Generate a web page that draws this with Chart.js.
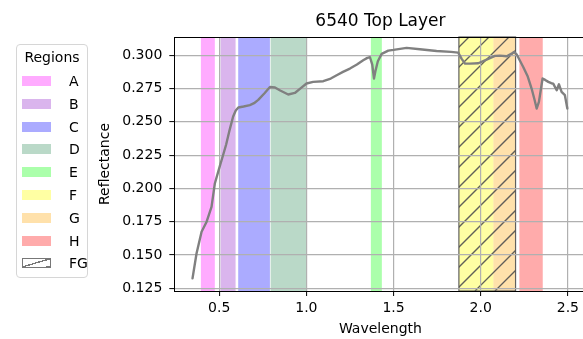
<!DOCTYPE html>
<html>
<head>
<meta charset="utf-8">
<script src="https://cdn.jsdelivr.net/npm/chart.js@4.4.0/dist/chart.umd.min.js"></script>
<style>
  html, body { margin: 0; padding: 0; background: #fff; overflow: hidden; width: 583px; height: 339px; }
  #wrap { position: absolute; left: 0; top: 0; width: 600px; height: 339px; }
  #legend { position: absolute; left: 16px; top: 44px; width: 72px; height: 234px; border: 1px solid #d6d6d6; border-radius: 4px; background: rgba(255,255,255,0.8); font-family: 'DejaVu Sans', sans-serif; font-size: 14px; color: #000; box-sizing: border-box; }
  #legend .title { position: absolute; left: 0; width: 100%; top: 3px; text-align: center; line-height: 18px; }
  #legend .row { position: absolute; left: 5px; height: 18px; line-height: 18px; }
  #legend .sw { position: absolute; left: 0; top: 4px; width: 29px; height: 10px; box-sizing: border-box; }
  #legend .lab { position: absolute; left: 47px; top: 0; white-space: nowrap; }
</style>
</head>
<body>
<div id="wrap"><canvas id="c" width="600" height="339"></canvas></div>
<div id="legend"><div class="title">Regions</div></div>
<script>
// ---------- data ----------
const wavelength = [0.347,0.370,0.399,0.428,0.456,0.475,0.504,0.520,0.540,0.560,0.580,0.595,0.610,0.640,0.676,0.700,0.724,0.760,0.791,0.820,0.850,0.896,0.934,0.970,1.001,1.039,1.097,1.140,1.174,1.210,1.250,1.290,1.326,1.350,1.365,1.378,1.388,1.396,1.410,1.432,1.470,1.500,1.575,1.651,1.747,1.830,1.871,1.890,1.910,1.939,1.986,2.034,2.082,2.110,2.149,2.175,2.191,2.206,2.244,2.270,2.292,2.310,2.321,2.334,2.355,2.370,2.388,2.405,2.416,2.436,2.449,2.464,2.483,2.497];
const reflectance = [0.1325,0.1512,0.1675,0.1750,0.1862,0.2037,0.2170,0.2240,0.2330,0.2440,0.2540,0.2585,0.2608,0.2615,0.2625,0.2640,0.2665,0.2715,0.2762,0.2758,0.2735,0.2705,0.2717,0.2755,0.2788,0.2800,0.2805,0.2825,0.2850,0.2875,0.2900,0.2930,0.2962,0.2980,0.2985,0.2930,0.2825,0.2880,0.2955,0.3010,0.3035,0.3040,0.3055,0.3045,0.3032,0.3025,0.3020,0.2975,0.2937,0.2937,0.2940,0.2967,0.2995,0.2997,0.2992,0.3010,0.3025,0.3007,0.2912,0.2840,0.2750,0.2660,0.2600,0.2650,0.2825,0.2815,0.2800,0.2790,0.2787,0.2737,0.2782,0.2725,0.2700,0.2600];
const regionNames = ['A','B','C','D','E','F','G','H'];
const regionStart = [0.395,0.508,0.609,0.795,1.370,1.875,2.073,2.222];
const regionEnd   = [0.475,0.594,0.791,1.000,1.433,2.073,2.200,2.356];
const regionColors = ['rgba(255,0,255,0.33)','rgba(153,50,204,0.36)','rgba(0,0,255,0.33)','rgba(46,139,87,0.33)','rgba(0,255,0,0.33)','rgba(255,255,0,0.36)','rgba(255,165,0,0.33)','rgba(255,0,0,0.33)'];
const hatchName = 'FG';
const hatchStart = 1.875, hatchEnd = 2.200;
const xTicks = [0.5,1.0,1.5,2.0,2.5];
const yTicks = [0.125,0.150,0.175,0.200,0.225,0.250,0.275,0.300];
const xMin = 0.2425, xMax = 2.6075, yMin = 0.1230, yMax = 0.3137;

// ---------- legend (HTML) ----------
const leg = document.getElementById('legend');
const rowTop0 = 27, rowStep = 22.8;
regionNames.forEach((n, i) => {
  const r = document.createElement('div'); r.className = 'row'; r.style.top = (rowTop0 + i*rowStep) + 'px';
  const s = document.createElement('div'); s.className = 'sw'; s.style.background = regionColors[i];
  const l = document.createElement('div'); l.className = 'lab'; l.textContent = n;
  r.appendChild(s); r.appendChild(l); leg.appendChild(r);
});
{
  const r = document.createElement('div'); r.className = 'row'; r.style.top = (rowTop0 + regionNames.length*rowStep) + 'px';
  const s = document.createElement('div'); s.className = 'sw';
  s.style.border = '1px solid #777';
  s.style.background = 'linear-gradient(to bottom right, transparent 44%, #777 44%, #777 53%, transparent 53%), linear-gradient(to bottom right, transparent 90%, #777 90%, #777 98%, transparent 98%)';
  const l = document.createElement('div'); l.className = 'lab'; l.textContent = hatchName;
  r.appendChild(s); r.appendChild(l); leg.appendChild(r);
}

// ---------- chart ----------
Chart.defaults.font.family = "'DejaVu Sans', sans-serif";
Chart.defaults.font.size = 14;
Chart.defaults.color = '#000';

const bandsPlugin = {
  id: 'bands',
  beforeDraw(chart) {
    const {ctx, chartArea: a, scales: {x}} = chart;
    ctx.save();
    regionNames.forEach((n, i) => {
      const x0 = x.getPixelForValue(regionStart[i]);
      const x1 = x.getPixelForValue(regionEnd[i]);
      ctx.fillStyle = regionColors[i];
      ctx.fillRect(x0, a.top, x1 - x0, a.bottom - a.top);
    });
    const h0 = x.getPixelForValue(hatchStart), h1 = x.getPixelForValue(hatchEnd);
    ctx.save();
    ctx.beginPath(); ctx.rect(h0, a.top, h1 - h0, a.bottom - a.top); ctx.clip();
    ctx.strokeStyle = 'rgba(80,80,80,0.9)'; ctx.lineWidth = 1.3;
    ctx.beginPath();
    const sp = 20;
    for (let c = Math.floor((h0 + a.top) / sp) * sp + 6; c <= h1 + a.bottom + sp; c += sp) {
      ctx.moveTo(c - a.bottom, a.bottom);
      ctx.lineTo(c - a.top, a.top);
    }
    ctx.stroke();
    ctx.restore();
    ctx.strokeStyle = 'rgba(80,80,80,0.9)'; ctx.lineWidth = 1.2;
    ctx.strokeRect(h0, a.top, h1 - h0, a.bottom - a.top);
    ctx.restore();
  }
};

new Chart(document.getElementById('c'), {
  type: 'line',
  data: {
    datasets: [{
      data: wavelength.map((w, i) => ({x: w, y: reflectance[i]})),
      borderColor: '#808080', borderWidth: 2.4, pointRadius: 0, tension: 0, fill: false,
      borderJoinStyle: 'round', borderCapStyle: 'round'
    }]
  },
  options: {
    responsive: false, animation: false,
    layout: { padding: { left: 97, right: 13.4, top: 11, bottom: 1 } },
    plugins: { legend: { display: false }, tooltip: { enabled: false } },
    scales: {
      x: {
        type: 'linear', position: 'bottom', min: xMin, max: xMax,
        afterBuildTicks: s => { s.ticks = xTicks.map(v => ({value: v})); },
        afterFit: s => { s.height = 47; },
        ticks: { callback: v => Number(v).toFixed(1), padding: 4, maxRotation: 0, autoSkip: false, color: '#000' },
        grid: { color: '#b0b0b0', lineWidth: 1.2, tickColor: '#000', tickLength: 5, tickWidth: 1 },
        border: { color: '#000', width: 1 },
        title: { display: true, text: 'Wavelength', padding: 0, font: { size: 14 } }
      },
      x2: {
        type: 'linear', position: 'top', min: xMin, max: xMax,
        afterFit: s => { s.height = 26; },
        ticks: { display: false },
        grid: { display: false, drawTicks: false },
        border: { display: true, color: '#000', width: 1 },
        title: { display: true, text: '6540 Top Layer', padding: 0, font: { size: 17 } }
      },
      y: {
        type: 'linear', position: 'left', min: yMin, max: yMax,
        afterBuildTicks: s => { s.ticks = yTicks.map(v => ({value: v})); },
        afterFit: s => { s.width = 77.3; },
        ticks: { callback: v => Number(v).toFixed(3), padding: 7, autoSkip: false, color: '#000' },
        grid: { color: '#b0b0b0', lineWidth: 1.2, tickColor: '#000', tickLength: 5, tickWidth: 1 },
        border: { color: '#000', width: 1 },
        title: { display: true, text: 'Reflectance', padding: 0, font: { size: 14 } }
      }
    }
  },
  plugins: [bandsPlugin]
});
</script>
</body>
</html>
